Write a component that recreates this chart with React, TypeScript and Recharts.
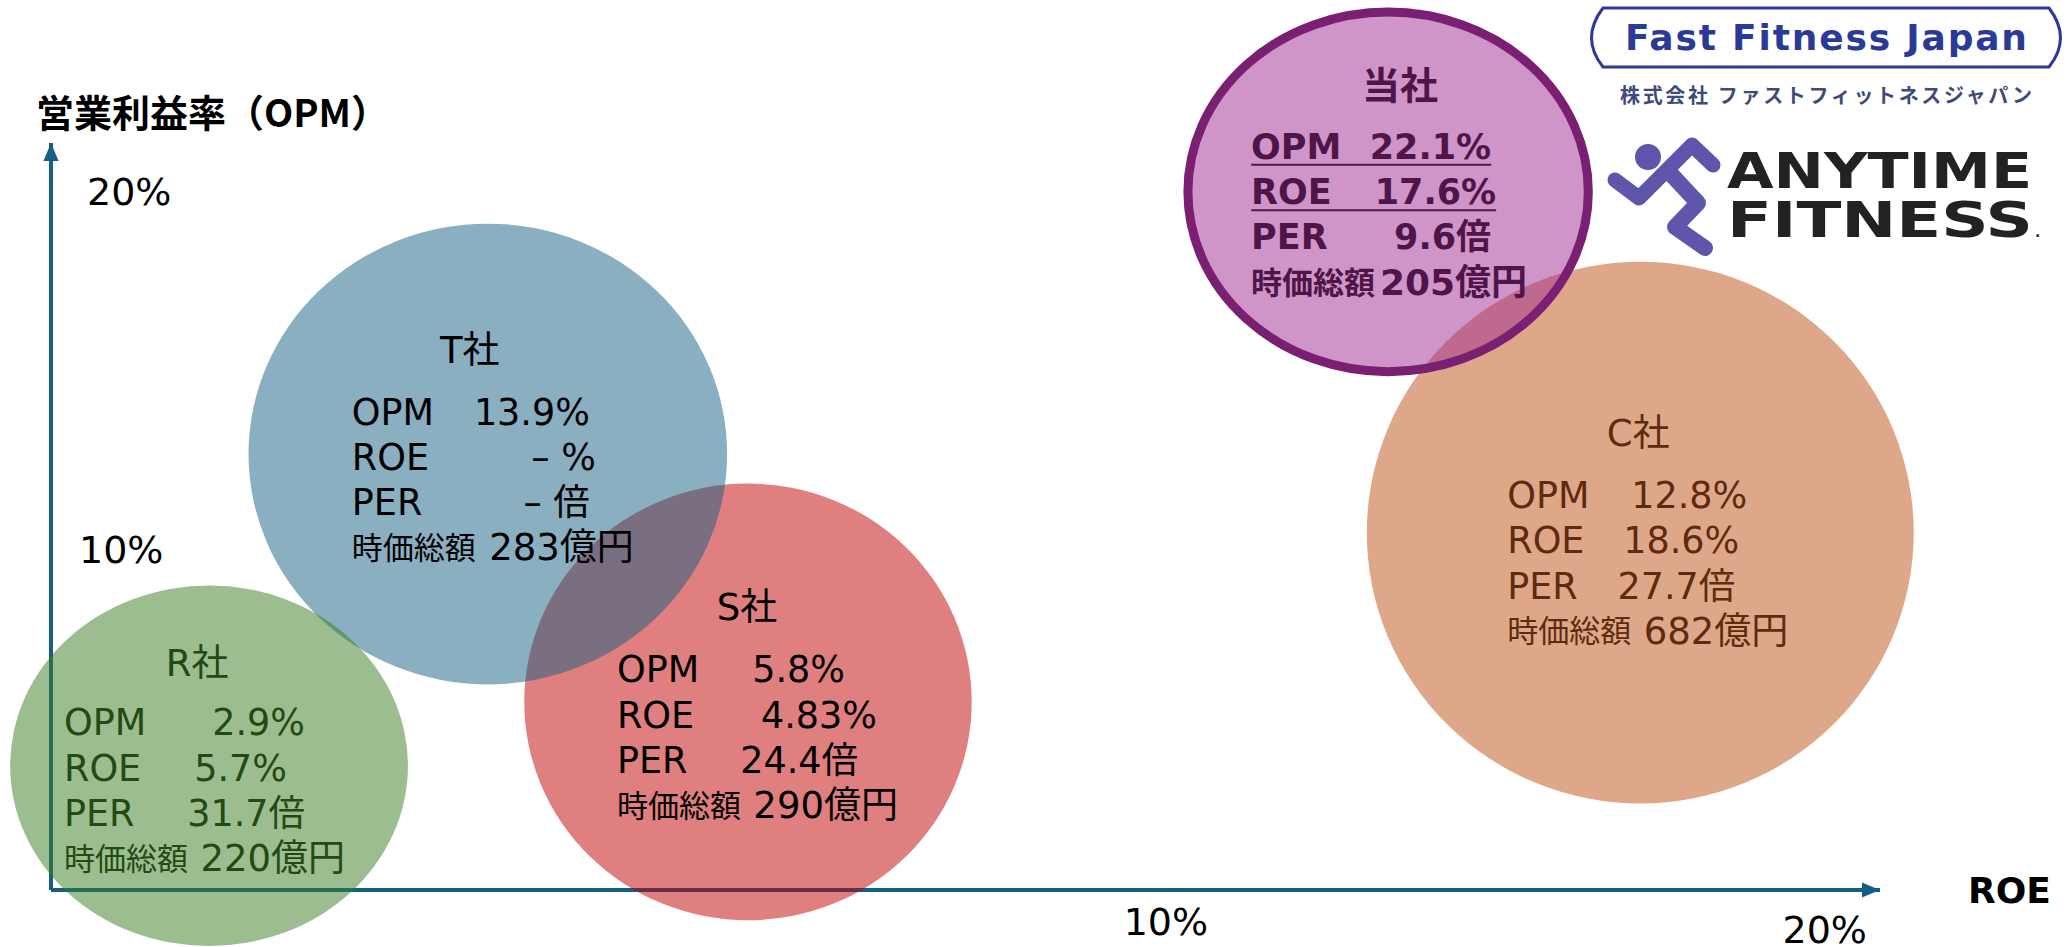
import React from 'react';
import { ScatterChart, Scatter, XAxis, YAxis } from 'recharts';

const W = 2069;
const H = 947;
const FONT = '"DejaVu Sans","Noto Sans CJK JP",sans-serif';
const AXIS_COLOR = '#156082';
const RUNNER_COLOR = '#5e56aa';
const LOGO_BLUE = '#2b3a96';

// drawing order matters, later bubbles sit on top
const companies = ['S社', 'T社', 'R社', 'C社', '当社'];
const bubbleRoe = [7.85, 4.92, 1.78, 17.9, 15.06];
const bubbleOpm = [5.39, 12.49, 3.56, 10.24, 20];
const bubbleRoeSpan = [5.04, 5.39, 4.48, 6.16, 4.51];
const bubbleOpmSpan = [12.51, 13.2, 10.33, 15.52, 10.3];
const opmValues = ['5.8%', '13.9%', '2.9%', '12.8%', '22.1%'];
const roeValues = ['4.83%', '– %', '5.7%', '18.6%', '17.6%'];
const perValues = ['24.4倍', '– 倍', '31.7倍', '27.7倍', '9.6倍'];
const capValues = ['290億円', '283億円', '220億円', '682億円', '205億円'];
const metricNames = ['OPM', 'ROE', 'PER'];
const capName = '時価総額';

const xTicks = [10, 20];
const yTicks = [10, 20];

const X_MAX = 20.6;
const Y_MAX = 21.4;
const margin = { left: 50, right: 189, top: 143, bottom: 56 };
const pxPerRoe = (W - 51 - margin.right) / X_MAX;
const pxPerOpm = (H - margin.top - 57) / Y_MAX;

const bubbles = companies.map((name, i) => ({
	name,
	roe: bubbleRoe[i],
	opm: bubbleOpm[i],
	roeSpan: bubbleRoeSpan[i],
	opmSpan: bubbleOpmSpan[i],
	values: [opmValues[i], roeValues[i], perValues[i]],
	cap: capValues[i],
}));

const bubbleStyle: Record<string, any> = {
	'S社': { fill: '#C00000', text: '#000000', titleDx: -1, titleDy: -94, textDx: -131, textDy: -32, ends: [228, 260, 241], capEnd: 281 },
	'T社': { fill: '#156082', text: '#000000', titleDx: -18, titleDy: -104, textDx: -136, textDy: -42, ends: [238, 244, 238], capEnd: 282 },
	'R社': { fill: '#3A7C22', text: '#234a12', titleDx: -12, titleDy: -102, textDx: -145, textDy: -43, ends: [241, 223, 241], capEnd: 281 },
	'C社': { fill: '#C04F15', text: '#5f2a0e', titleDx: -2, titleDy: -99, textDx: -133, textDy: -37, ends: [240, 232, 228], capEnd: 281 },
	'当社': { fill: '#A02B93', text: '#4f1548', titleDx: 12, titleDy: -106, textDx: -137, textDy: -45, ends: [240, 245, 240], capEnd: 276, stroke: '#7B1F72', bold: true },
};

const Bubble = (props: any) => {
	const { cx, cy, payload } = props;
	const s = bubbleStyle[payload.name];
	const rx = (payload.roeSpan * pxPerRoe) / 2;
	const ry = (payload.opmSpan * pxPerOpm) / 2;
	const tx = cx + s.textDx;
	const ty = cy + s.textDy;
	return (
		<g fontFamily={FONT} fontWeight={s.bold ? 700 : 400} fill={s.text}>
			<ellipse
				cx={cx}
				cy={cy}
				rx={rx}
				ry={ry}
				fill={s.fill}
				fillOpacity={0.5}
				stroke={s.stroke || 'none'}
				strokeWidth={s.stroke ? 9 : 0}
			/>
			<text x={cx + s.titleDx} y={cy + s.titleDy} fontSize={s.bold ? 38 : 37} textAnchor='middle' dominantBaseline='central'>
				{payload.name}
			</text>
			{metricNames.map((metric, i) => (
				<g key={metric} fontSize={s.bold ? 35 : 36.5}>
					<text x={tx} y={ty + i * 45.3} dominantBaseline='central'>
						{metric}
					</text>
					<text x={tx + s.ends[i]} y={ty + i * 45.3} textAnchor='end' dominantBaseline='central'>
						{payload.values[i]}
					</text>
					{s.bold && i < 2 && (
						<line x1={tx} x2={tx + s.ends[i]} y1={ty + i * 45.3 + 18} y2={ty + i * 45.3 + 18} stroke={s.text} strokeWidth={2} />
					)}
				</g>
			))}
			<text x={tx} y={ty + 3 * 45.3} fontSize={31} dominantBaseline='central'>
				{capName}
			</text>
			<text x={tx + s.capEnd} y={ty + 3 * 45.3} fontSize={s.bold ? 36 : 37} textAnchor='end' dominantBaseline='central'>
				{payload.cap}
			</text>
		</g>
	);
};

const xTickShift: Record<number, { dx: number; dy: number }> = {
	10: { dx: 227, dy: 33 },
	20: { dx: -2, dy: 41 },
};
const yTickShift: Record<number, { x: number; dy: number }> = {
	10: { x: 79, dy: 9 },
	20: { x: 87, dy: 0 },
};

const XTick = ({ x, payload }: any) => {
	const shift = xTickShift[payload.value];
	return (
		<text x={x + shift.dx} y={889 + shift.dy} fontFamily={FONT} fontSize={38} textAnchor='middle' dominantBaseline='central' fill='#000'>
			{payload.value}%
		</text>
	);
};

const YTick = ({ y, payload }: any) => {
	const shift = yTickShift[payload.value];
	return (
		<text x={shift.x} y={y + shift.dy} fontFamily={FONT} fontSize={38} dominantBaseline='central' fill='#000'>
			{payload.value}%
		</text>
	);
};

const Logos = () => (
	<svg width={W} height={H} style={{ position: 'absolute', left: 0, top: 0, pointerEvents: 'none' }}>
		<text x={36} y={110} fontFamily='"Noto Sans CJK JP"' fontWeight={700} fontSize={38} dominantBaseline='central'>
			営業利益率（OPM）
		</text>
		<text x={1968} y={890} fontFamily={FONT} fontWeight={700} fontSize={36} dominantBaseline='central'>
			ROE
		</text>

		<path d='M1603,8 L2049,8 Q2072,38 2049,67 L1603,67 Q1580,38 1603,8 Z' fill='none' stroke={LOGO_BLUE} strokeWidth={3} />
		<text x={1625} y={50} textLength={402} lengthAdjust='spacing' fontFamily='"DejaVu Sans"' fontWeight={700} fontSize={36} fill={LOGO_BLUE}>
			Fast Fitness Japan
		</text>
		<text x={1620} y={94} textLength={412} lengthAdjust='spacing' fontFamily='"Noto Sans CJK JP"' fontWeight={700} fontSize={20} fill='#3f4a78' dominantBaseline='central'>
			株式会社 ファストフィットネスジャパン
		</text>

		<circle cx={1648} cy={157} r={13} fill={RUNNER_COLOR} />
		<polyline points='1615,180 1639,198 1692,145 1713,165' fill='none' stroke={RUNNER_COLOR} strokeWidth={15} strokeLinejoin='round' strokeLinecap='round' />
		<polyline points='1670,173 1698,203 1675,227 1705,248' fill='none' stroke={RUNNER_COLOR} strokeWidth={16} strokeLinejoin='round' strokeLinecap='round' />
		<text x={1727} y={188} textLength={305} lengthAdjust='spacingAndGlyphs' fontFamily='"DejaVu Sans"' fontWeight={700} fontSize={50} fill='#222'>
			ANYTIME
		</text>
		<text x={1727} y={237} textLength={306} lengthAdjust='spacingAndGlyphs' fontFamily='"DejaVu Sans"' fontWeight={700} fontSize={50} fill='#222'>
			FITNESS
		</text>
		<text x={2035} y={237} fontFamily='"DejaVu Sans"' fontWeight={700} fontSize={14} fill='#222'>
			.
		</text>
	</svg>
);

export default function App() {
	return (
		<div style={{ position: 'absolute', left: 0, top: 0, width: W, height: H, background: '#fff', overflow: 'hidden' }}>
			<ScatterChart width={W} height={H} margin={margin}>
				<defs>
					<marker id='axisArrow' markerWidth={5} markerHeight={4} refX={4.5} refY={1.9} orient='auto-start-reverse'>
						<path d='M0,0 L4.5,1.9 L0,3.8 Z' fill={AXIS_COLOR} />
					</marker>
				</defs>
				<XAxis
					type='number'
					dataKey='roe'
					domain={[0, X_MAX]}
					ticks={xTicks}
					height={1}
					tickLine={false}
					tick={<XTick />}
					axisLine={{ stroke: AXIS_COLOR, strokeWidth: 4, markerEnd: 'url(#axisArrow)' }}
					interval={0}
				/>
				<YAxis
					type='number'
					dataKey='opm'
					domain={[0, Y_MAX]}
					ticks={yTicks}
					width={1}
					tickLine={false}
					tick={<YTick />}
					axisLine={{ stroke: AXIS_COLOR, strokeWidth: 4, markerStart: 'url(#axisArrow)' }}
					interval={0}
				/>
				<Scatter data={bubbles} shape={<Bubble />} isAnimationActive={false} />
			</ScatterChart>
			<Logos />
		</div>
	);
}
